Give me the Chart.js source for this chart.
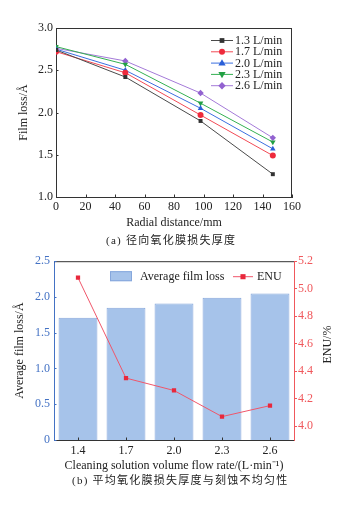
<!DOCTYPE html>
<html>
<head>
<meta charset="utf-8">
<script src="https://cdn.jsdelivr.net/npm/chart.js@4/dist/chart.umd.min.js"></script>
<style>
  html,body{margin:0;padding:0;background:#fff;}
  body{width:355px;height:506px;position:relative;overflow:hidden;}
  canvas{position:absolute;left:0;}
  #ca{top:0;}
  #cb{top:250px;}
  .cap{position:absolute;font-family:'Liberation Serif','Noto Sans CJK SC',serif;font-size:11px;color:#222;white-space:nowrap;letter-spacing:1.25px;line-height:14px;}
</style>
</head>
<body>
<canvas id="ca" width="355" height="250"></canvas>
<canvas id="cb" width="355" height="256"></canvas>
<div class="cap" style="left:106px;top:233px;">(a) 径向氧化膜损失厚度</div>
<div class="cap" style="left:72px;top:473px;">(b) 平均氧化膜损失厚度与刻蚀不均匀性</div>
<script>
// ---------- data: chart (a) ----------
const radialDistance = [0, 47, 98, 147];
const flowLabelsA = ['1.3 L/min', '1.7 L/min', '2.0 L/min', '2.3 L/min', '2.6 L/min'];
const loss13 = [2.74, 2.42, 1.90, 1.27];
const loss17 = [2.72, 2.47, 1.97, 1.49];
const loss20 = [2.75, 2.50, 2.05, 1.57];
const loss23 = [2.78, 2.57, 2.11, 1.65];
const loss26 = [2.76, 2.61, 2.23, 1.70];
const ticksYA = [1.0, 1.5, 2.0, 2.5, 3.0];
const ticksXA = [0, 20, 40, 60, 80, 100, 120, 140, 160];

// ---------- data: chart (b) ----------
const flowRatesB = ['1.4', '1.7', '2.0', '2.3', '2.6'];
const avgFilmLoss = [1.71, 1.85, 1.91, 1.99, 2.05];
const enuValues = [5.08, 4.35, 4.26, 4.07, 4.15];
const ticksYB = [0, 0.5, 1.0, 1.5, 2.0, 2.5];
const ticksENU = [4.0, 4.2, 4.4, 4.6, 4.8, 5.0, 5.2];

const SERIF = "'Liberation Serif','Times New Roman',serif";
Chart.defaults.font.family = SERIF;
Chart.defaults.font.size = 12;
Chart.defaults.color = '#222';

function drawMarker(ctx, style, x, y, r, rot, color) {
  ctx.save();
  ctx.fillStyle = color;
  ctx.strokeStyle = color;
  ctx.translate(x, y);
  if (rot) ctx.rotate(rot * Math.PI / 180);
  ctx.beginPath();
  if (style === 'rect') {
    ctx.rect(-r * 0.85, -r * 0.85, r * 1.7, r * 1.7);
  } else if (style === 'circle') {
    ctx.arc(0, 0, r, 0, Math.PI * 2);
  } else if (style === 'triangle') {
    const s = r * 1.2;
    ctx.moveTo(0, -s);
    ctx.lineTo(s * 0.95, s * 0.65);
    ctx.lineTo(-s * 0.95, s * 0.65);
    ctx.closePath();
  } else if (style === 'rectRot') {
    const s = r * 1.15;
    ctx.moveTo(0, -s); ctx.lineTo(s, 0); ctx.lineTo(0, s); ctx.lineTo(-s, 0);
    ctx.closePath();
  }
  ctx.fill();
  ctx.restore();
}

const frame = {
  id: 'frame',
  afterDraw(chart, args, opts) {
    const {ctx, chartArea: a} = chart;
    ctx.save();
    ctx.lineWidth = 1;
    if (opts.top) {
      ctx.strokeStyle = opts.top;
      ctx.beginPath(); ctx.moveTo(a.left, a.top + 0.5); ctx.lineTo(a.right, a.top + 0.5); ctx.stroke();
    }
    if (opts.right) {
      ctx.strokeStyle = opts.right;
      ctx.beginPath(); ctx.moveTo(a.right - 0.5, a.top); ctx.lineTo(a.right - 0.5, a.bottom); ctx.stroke();
    }
    (opts.inward || []).forEach(function (d) {
      const s = chart.scales[d.id];
      ctx.strokeStyle = d.color;
      s.ticks.forEach(function (t, i) {
        const p = Math.round(s.getPixelForTick(i)) + 0.5;
        ctx.beginPath();
        if (s.isHorizontal()) { ctx.moveTo(p, a.bottom); ctx.lineTo(p, a.bottom - d.len); }
        else { ctx.moveTo(a.left, p); ctx.lineTo(a.left + d.len, p); }
        ctx.stroke();
      });
    });
    ctx.restore();
  }
};

const NO_GRID = {display: false, drawTicks: false, tickLength: 0};

// ---------- chart (a) ----------
const seriesA = [loss13, loss17, loss20, loss23, loss26];
const styleA = [
  {line: '#4a4a4a', pt: '#333333', ps: 'rect', rot: 0, r: 2.8},
  {line: '#f24a55', pt: '#ee2a3c', ps: 'circle', rot: 0, r: 3},
  {line: '#3b6fe0', pt: '#2a5fd8', ps: 'triangle', rot: 0, r: 3.2},
  {line: '#34b052', pt: '#22a044', ps: 'triangle', rot: 180, r: 3.2},
  {line: '#a47ad8', pt: '#9262d0', ps: 'rectRot', rot: 0, r: 3.2}
];

const legendA = {
  id: 'legendA',
  afterDraw(chart) {
    const {ctx, chartArea: a} = chart;
    const x0 = a.right - 81, x1 = a.right - 59, tx = a.right - 57;
    ctx.save();
    ctx.font = '12px ' + SERIF;
    ctx.textBaseline = 'middle';
    ctx.textAlign = 'left';
    chart.data.datasets.forEach(function (ds, i) {
      const y = a.top + 12 + i * 11.3;
      const st = styleA[i];
      ctx.strokeStyle = st.line; ctx.lineWidth = 1;
      ctx.beginPath(); ctx.moveTo(x0, y + 0.5); ctx.lineTo(x1, y + 0.5); ctx.stroke();
      drawMarker(ctx, st.ps, (x0 + x1) / 2, y + 0.5, st.r, st.rot, st.pt);
      ctx.fillStyle = '#222';
      ctx.fillText(ds.label, tx, y + 1);
    });
    ctx.restore();
  }
};

new Chart(document.getElementById('ca'), {
  type: 'line',
  data: {
    datasets: seriesA.map(function (vals, i) {
      return {
        label: flowLabelsA[i],
        data: radialDistance.map(function (x, j) { return {x: x, y: vals[j]}; }),
        borderColor: styleA[i].line,
        backgroundColor: styleA[i].pt,
        pointBackgroundColor: styleA[i].pt,
        pointBorderColor: styleA[i].pt,
        pointStyle: styleA[i].ps,
        pointRotation: styleA[i].rot,
        pointRadius: styleA[i].r,
        pointBorderWidth: 0,
        borderWidth: 1,
        tension: 0
      };
    })
  },
  options: {
    responsive: false,
    animation: false,
    layout: {padding: {top: 28, right: 63, left: 0, bottom: 17}},
    plugins: {
      legend: {display: false},
      tooltip: {enabled: false},
      frame: {top: '#333', right: '#333', inward: [{id: 'x', color: '#333', len: 2.5}, {id: 'y', color: '#333', len: 2.5}]}
    },
    scales: {
      x: {
        type: 'linear', min: 0, max: 160,
        afterBuildTicks: function (s) { s.ticks = ticksXA.map(function (v) { return {value: v}; }); },
        afterFit: function (s) { s.height = 36; },
        grid: NO_GRID,
        border: {display: true, color: '#333', width: 1},
        ticks: {padding: 3, color: '#222', font: {size: 12}},
        title: {display: true, text: 'Radial distance/mm', color: '#222', font: {size: 12}, padding: {top: 0, bottom: 3}}
      },
      y: {
        min: 1, max: 3,
        afterBuildTicks: function (s) { s.ticks = ticksYA.map(function (v) { return {value: v}; }); },
        afterFit: function (s) { s.width = 56; },
        grid: NO_GRID,
        border: {display: true, color: '#333', width: 1},
        ticks: {padding: 3, color: '#222', font: {size: 12}, callback: function (v) { return Number(v).toFixed(1); }},
        title: {display: true, text: 'Film loss/Å', color: '#222', font: {size: 12}, padding: {top: 17, bottom: 0}}
      }
    }
  },
  plugins: [frame, legendA]
});

// ---------- chart (b) ----------
const BLUE_AX = '#4472c4';
const RED_AX = '#f0585c';
const BAR_FILL = '#a6c3ea';
const BAR_EDGE = '#86a7dc';
const ENU_LINE = '#f0566a';
const ENU_PT = '#e8283c';

const legendB = {
  id: 'legendB',
  afterDraw(chart) {
    const {ctx, chartArea: a} = chart;
    const y = a.top + 15;
    ctx.save();
    ctx.font = '12px ' + SERIF;
    ctx.textBaseline = 'middle';
    ctx.textAlign = 'left';
    ctx.fillStyle = BAR_FILL;
    ctx.fillRect(a.left + 56, y - 5, 22, 10);
    ctx.strokeStyle = BAR_EDGE; ctx.lineWidth = 1;
    ctx.strokeRect(a.left + 56.5, y - 4.5, 21, 9);
    ctx.fillStyle = '#222';
    ctx.fillText(chart.data.datasets[0].label, a.left + 86, y + 1);
    const lx0 = a.left + 179, lx1 = a.left + 199;
    ctx.strokeStyle = ENU_LINE;
    ctx.beginPath(); ctx.moveTo(lx0, y + 0.5); ctx.lineTo(lx1, y + 0.5); ctx.stroke();
    drawMarker(ctx, 'rect', (lx0 + lx1) / 2, y + 0.5, 3, 0, ENU_PT);
    ctx.fillStyle = '#222';
    ctx.fillText(chart.data.datasets[1].label, a.left + 203, y + 1);
    const s = chart.scales.y2;
    ctx.translate(s.right - 27, (a.top + a.bottom) / 2 - 6);
    ctx.rotate(-Math.PI / 2);
    ctx.textAlign = 'center';
    ctx.fillText('ENU/%', 0, 0);
    ctx.restore();
  }
};

new Chart(document.getElementById('cb'), {
  type: 'bar',
  data: {
    labels: flowRatesB,
    datasets: [
      {
        type: 'bar',
        label: 'Average film loss',
        data: avgFilmLoss,
        yAxisID: 'y',
        backgroundColor: BAR_FILL,
        borderColor: BAR_EDGE,
        borderWidth: 1,
        barPercentage: 0.81,
        categoryPercentage: 1,
        order: 2
      },
      {
        type: 'line',
        label: 'ENU',
        data: enuValues,
        yAxisID: 'y2',
        borderColor: ENU_LINE,
        backgroundColor: ENU_PT,
        pointBackgroundColor: ENU_PT,
        pointBorderColor: ENU_PT,
        pointStyle: 'rect',
        pointRadius: 3,
        pointBorderWidth: 0,
        borderWidth: 1,
        tension: 0,
        order: 1
      }
    ]
  },
  options: {
    responsive: false,
    animation: false,
    layout: {padding: {top: 11, right: 0, left: 0, bottom: 30}},
    plugins: {
      legend: {display: false},
      tooltip: {enabled: false},
      frame: {top: '#333', inward: [{id: 'x', color: '#333', len: 2.5}, {id: 'y', color: BLUE_AX, len: 2.5}]}
    },
    scales: {
      x: {
        type: 'category',
        offset: true,
        afterFit: function (s) { s.height = 36; },
        grid: Object.assign({}, NO_GRID, {offset: false}),
        border: {display: true, color: '#333', width: 1},
        ticks: {padding: 4, color: '#222', font: {size: 12}},
        title: {display: true, text: 'Cleaning solution volume flow rate/(L·min⁻¹)', color: '#222', font: {size: 12}, padding: {top: 0, bottom: 3}}
      },
      y: {
        position: 'left',
        min: 0, max: 2.5,
        afterBuildTicks: function (s) { s.ticks = ticksYB.map(function (v) { return {value: v}; }); },
        afterFit: function (s) { s.width = 54; },
        grid: NO_GRID,
        border: {display: true, color: BLUE_AX, width: 1},
        ticks: {padding: 4, color: BLUE_AX, font: {size: 12}, callback: function (v) { return v === 0 ? '0' : Number(v).toFixed(1); }},
        title: {display: true, text: 'Average film loss/Å', color: '#222', font: {size: 12}, padding: {top: 13, bottom: 0}}
      },
      y2: {
        position: 'right',
        min: 3.9, max: 5.2,
        afterBuildTicks: function (s) { s.ticks = ticksENU.map(function (v) { return {value: v}; }); },
        afterFit: function (s) { s.width = 61; },
        grid: {display: true, drawOnChartArea: false, drawTicks: true, tickLength: 3, color: RED_AX},
        border: {display: true, color: RED_AX, width: 1},
        ticks: {padding: 1, color: RED_AX, font: {size: 12}, callback: function (v) { return Number(v).toFixed(1); }},
        title: {display: false}
      }
    }
  },
  plugins: [frame, legendB]
});
</script>
</body>
</html>
